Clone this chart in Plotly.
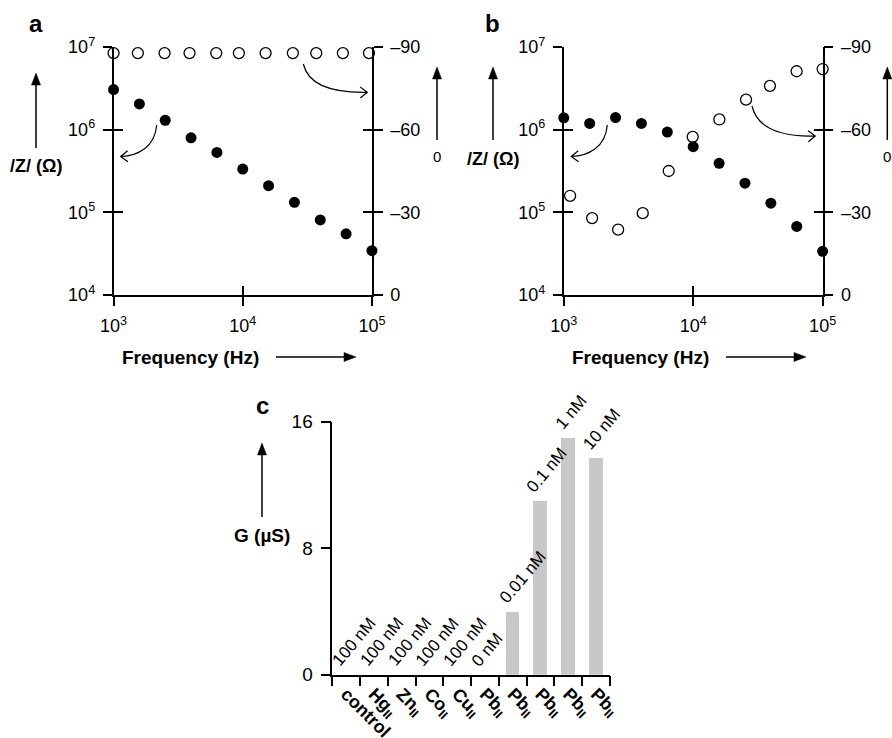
import math
import plotly.graph_objects as go

# ---------------- data ----------------
# panel a
freq_a = [1000, 1585, 2512, 3981, 6310, 10000, 15849, 25119, 39811, 63096, 100000]
z_a = [3.06e6, 2.05e6, 1.30e6, 7.98e5, 5.31e5, 3.34e5, 2.10e5, 1.32e5, 8.1e4, 5.5e4, 3.43e4]
phase_freq_a = [1000, 1542, 2483, 3873, 6237, 9333, 15031, 24434, 37068, 59566, 94842]
phase_a = [-87.8, -87.8, -87.8, -87.8, -87.8, -87.8, -87.8, -87.8, -87.8, -87.8, -87.8]
# panel b
freq_b = [1000, 1585, 2512, 3981, 6310, 10000, 15849, 25119, 39811, 63096, 100000]
z_b = [1.39e6, 1.19e6, 1.40e6, 1.19e6, 9.35e5, 6.22e5, 3.92e5, 2.25e5, 1.29e5, 6.74e4, 3.37e4]
phase_freq_b = [1119, 1656, 2630, 4074, 6471, 9908, 15920, 25590, 39170, 62950, 100000]
phase_b = [-36.0, -27.9, -23.7, -29.7, -45.0, -57.4, -63.7, -70.9, -75.9, -81.2, -82.0]
# panel c
categories = ["control", "Hg<sub>II</sub>", "Zn<sub>II</sub>", "Co<sub>II</sub>", "Cu<sub>II</sub>",
              "Pb<sub>II</sub>", "Pb<sub>II</sub>", "Pb<sub>II</sub>", "Pb<sub>II</sub>", "Pb<sub>II</sub>"]
conc_labels = ["100 nM", "100 nM", "100 nM", "100 nM", "100 nM", "0 nM", "0.01 nM", "0.1 nM", "1 nM", "10 nM"]
conductance = [0, 0, 0, 0, 0, 0, 4.0, 11.0, 15.0, 13.7]

log_ticks = [1e4, 1e5, 1e6, 1e7]
log_text = ["10<sup>4</sup>", "10<sup>5</sup>", "10<sup>6</sup>", "10<sup>7</sup>"]
f_ticks = [1e3, 1e4, 1e5]
f_text = ["10<sup>3</sup>", "10<sup>4</sup>", "10<sup>5</sup>"]
ph_ticks = [0, -30, -60, -90]
ph_text = ["0", "–30", "–60", "–90"]
g_ticks = [0, 8, 16]

# ---------------- layout helpers ----------------
W, H = 892, 738
FONT = "Liberation Sans, Arial, Helvetica, sans-serif"
TF = 18
EPS = 0.0005


def px(x):
    return x / W


def py(y):
    return 1 - y / H


fig = go.Figure()

open_marker = dict(symbol="circle-open", size=11, color="black", line=dict(width=1.3, color="black"))
fill_marker = dict(symbol="circle", size=11, color="black")


def empty(xa, ya):
    fig.add_trace(go.Scatter(x=[None], y=[None], xaxis=xa, yaxis=ya, mode="markers",
                             showlegend=False, hoverinfo="skip"))


# panel a traces: base y = phase (right), overlay = |Z| (left)
fig.add_trace(go.Scatter(x=phase_freq_a, y=phase_a, xaxis="x", yaxis="y", mode="markers",
                         marker=open_marker, cliponaxis=False, showlegend=False))
fig.add_trace(go.Scatter(x=freq_a, y=z_a, xaxis="x", yaxis="y2", mode="markers",
                         marker=fill_marker, cliponaxis=False, showlegend=False))
empty("x", "y3")
empty("x", "y4")
empty("x2", "y")
# panel b traces
fig.add_trace(go.Scatter(x=phase_freq_b, y=phase_b, xaxis="x3", yaxis="y5", mode="markers",
                         marker=open_marker, cliponaxis=False, showlegend=False))
fig.add_trace(go.Scatter(x=freq_b, y=z_b, xaxis="x3", yaxis="y6", mode="markers",
                         marker=fill_marker, cliponaxis=False, showlegend=False))
empty("x3", "y7")
empty("x3", "y8")
empty("x4", "y5")
# panel c
fig.add_trace(go.Bar(x=list(range(len(conductance))), y=conductance, width=0.5,
                     marker=dict(color="#c8c8c8", line=dict(width=0)),
                     xaxis="x5", yaxis="y9", showlegend=False))

common = dict(showgrid=False, zeroline=False, linecolor="black", linewidth=1.5, automargin=False,
              tickcolor="black", tickwidth=1.5, tickfont=dict(family=FONT, size=TF, color="black"))


def panel_axes(xa, xa_in, y_ph, y_z, y_zin, y_phin, x0, x1):
    d = {}
    xname = "xaxis" if xa == "x" else "xaxis" + xa[1:]
    xin = "xaxis" + xa_in[1:]
    yph = "yaxis" if y_ph == "y" else "yaxis" + y_ph[1:]
    yz = "yaxis" + y_z[1:]
    yzin = "yaxis" + y_zin[1:]
    yphin = "yaxis" + y_phin[1:]
    ydom = [py(295), py(47)]
    xr = [3 - EPS, 5 + EPS]
    zr = [4 - EPS, 7 + EPS]
    d[xname] = dict(common, domain=[px(x0), px(x1)], type="log", range=xr, anchor=y_ph,
                    tickvals=f_ticks, ticktext=f_text, ticks="outside", ticklen=9,
                    showline=True, ticklabelstandoff=5)
    d[xin] = dict(common, overlaying=xa, type="log", range=xr, anchor=y_ph,
                  tickvals=f_ticks, ticks="inside", ticklen=9, showline=False, showticklabels=False)
    d[yph] = dict(common, domain=ydom, range=[0, -90], side="right", anchor=xa,
                  tickvals=ph_ticks, ticktext=ph_text, ticks="outside", ticklen=9, showline=True,
                  ticklabelstandoff=4)
    d[yz] = dict(common, overlaying=y_ph, type="log", range=zr, side="left", anchor=xa,
                 tickvals=log_ticks, ticktext=log_text, ticks="outside", ticklen=9, showline=True,
                 ticklabelstandoff=4)
    d[yzin] = dict(common, overlaying=y_ph, type="log", range=zr, side="left", anchor=xa,
                   tickvals=log_ticks, ticks="inside", ticklen=9, showline=False, showticklabels=False)
    d[yphin] = dict(common, overlaying=y_ph, range=[0, -90], side="right", anchor=xa,
                    tickvals=ph_ticks, ticks="inside", ticklen=9, showline=False, showticklabels=False)
    return d


layout_axes = {}
layout_axes.update(panel_axes("x", "x2", "y", "y2", "y3", "y4", 113.5, 372))
layout_axes.update(panel_axes("x3", "x4", "y5", "y6", "y7", "y8", 563.7, 822.7))

layout_axes["xaxis5"] = dict(common, domain=[px(332.3), px(610)], range=[-0.5, 9.5], anchor="y9",
                             tickvals=list(range(10)), ticktext=categories, tickangle=45,
                             ticks="", showline=True,
                             tickfont=dict(family=FONT, size=18, color="black", weight="bold"),
                             minor=dict(tickvals=[i - 0.5 for i in range(11)], ticks="outside",
                                        ticklen=10, tickwidth=1.5, tickcolor="black"))
layout_axes["yaxis9"] = dict(common, domain=[py(674.7), py(421.7)], range=[0, 16], anchor="x5",
                             tickvals=g_ticks, ticks="outside", ticklen=10, showline=True,
                             tickfont=dict(family=FONT, size=19, color="black"), ticklabelstandoff=4)

fig.update_layout(template="none", width=W, height=H, margin=dict(l=0, r=0, t=0, b=0, pad=0),
                  autosize=False, showlegend=False,
                  paper_bgcolor="white", plot_bgcolor="rgba(0,0,0,0)",
                  font=dict(family=FONT, color="black"), bargap=0, **layout_axes)

# ---------------- text annotations ----------------
ann = []


def text(x, y, s, size, bold=False):
    ann.append(dict(x=px(x), y=py(y), xref="paper", yref="paper", text=s, showarrow=False,
                    font=dict(family=FONT, size=size, color="black", weight="bold" if bold else "normal"),
                    xanchor="center", yanchor="middle"))


text(36, 24, "a", 24, True)
text(492, 23, "b", 24, True)
text(262, 405, "c", 24, True)
text(36, 166, "/Z/ (Ω)", 18, True)
text(493, 159, "/Z/ (Ω)", 18, True)
text(437, 156, "0", 15)
text(887, 156, "0", 15)
text(190, 357, "Frequency (Hz)", 19, True)
text(640, 357, "Frequency (Hz)", 19, True)
text(262, 535, "G (µS)", 19, True)

for i, (lab, v) in enumerate(zip(conc_labels, conductance)):
    ann.append(dict(x=i, y=v, xref="x5", yref="y9", text=lab, textangle=-50, showarrow=False,
                    xanchor="left", yanchor="bottom", xshift=-20, yshift=2,
                    font=dict(family=FONT, size=17, color="black")))

fig.update_layout(annotations=ann)

# ---------------- arrows (decoration) ----------------
shapes = []
LW = 1.5


def line_path(pts):
    return "M " + " L ".join(f"{px(x):.5f},{py(y):.5f}" for x, y in pts)


def tri(pts):
    return line_path(pts) + " Z"


def arrow_up(x, y_tip, y_bot):
    shapes.append(dict(type="path", xref="paper", yref="paper",
                       path=line_path([(x, y_bot), (x, y_tip + 10)]), line=dict(color="black", width=LW)))
    shapes.append(dict(type="path", xref="paper", yref="paper",
                       path=tri([(x, y_tip), (x - 4.5, y_tip + 12), (x + 4.5, y_tip + 12)]),
                       fillcolor="black", line=dict(color="black", width=0.5)))


def arrow_right(x0, x_tip, y):
    shapes.append(dict(type="path", xref="paper", yref="paper",
                       path=line_path([(x0, y), (x_tip - 10, y)]), line=dict(color="black", width=LW)))
    shapes.append(dict(type="path", xref="paper", yref="paper",
                       path=tri([(x_tip, y), (x_tip - 12, y - 4.5), (x_tip - 12, y + 4.5)]),
                       fillcolor="black", line=dict(color="black", width=0.5)))


def curved(s, c1, c2, e):
    p = (f"M {px(s[0]):.5f},{py(s[1]):.5f} C {px(c1[0]):.5f},{py(c1[1]):.5f} "
         f"{px(c2[0]):.5f},{py(c2[1]):.5f} {px(e[0]):.5f},{py(e[1]):.5f}")
    dx, dy = e[0] - c2[0], e[1] - c2[1]
    n = math.hypot(dx, dy)
    dx, dy = dx / n, dy / n
    L, a = 9, math.radians(38)
    arms = []
    for sgn in (1, -1):
        ca, sa = math.cos(sgn * a), math.sin(sgn * a)
        bx, by = -dx, -dy
        rx, ry = bx * ca - by * sa, bx * sa + by * ca
        arms.append((e[0] + L * rx, e[1] + L * ry))
    p += " " + line_path([arms[0], e, arms[1]])
    shapes.append(dict(type="path", xref="paper", yref="paper", path=p,
                       line=dict(color="black", width=1.2)))


arrow_up(36, 73, 148)
arrow_up(493, 67, 140)
arrow_up(437, 67, 140)
arrow_up(887.3, 67, 140)
arrow_up(262, 443, 517)
arrow_right(276, 356, 357)
arrow_right(726, 806, 357)

curved((156.7, 125), (155, 147), (138, 156), (120.7, 156.5))
curved((303.3, 64), (308, 84), (330, 93), (367.3, 92.3))
curved((607.3, 125), (605.6, 147), (588.6, 156), (571.3, 156.5))
curved((752, 106), (757, 127), (779, 137), (815.3, 136))

fig.update_layout(shapes=shapes)

fig.write_html("out.html", config={"displayModeBar": False},
               post_script="document.body.style.margin='0';")
